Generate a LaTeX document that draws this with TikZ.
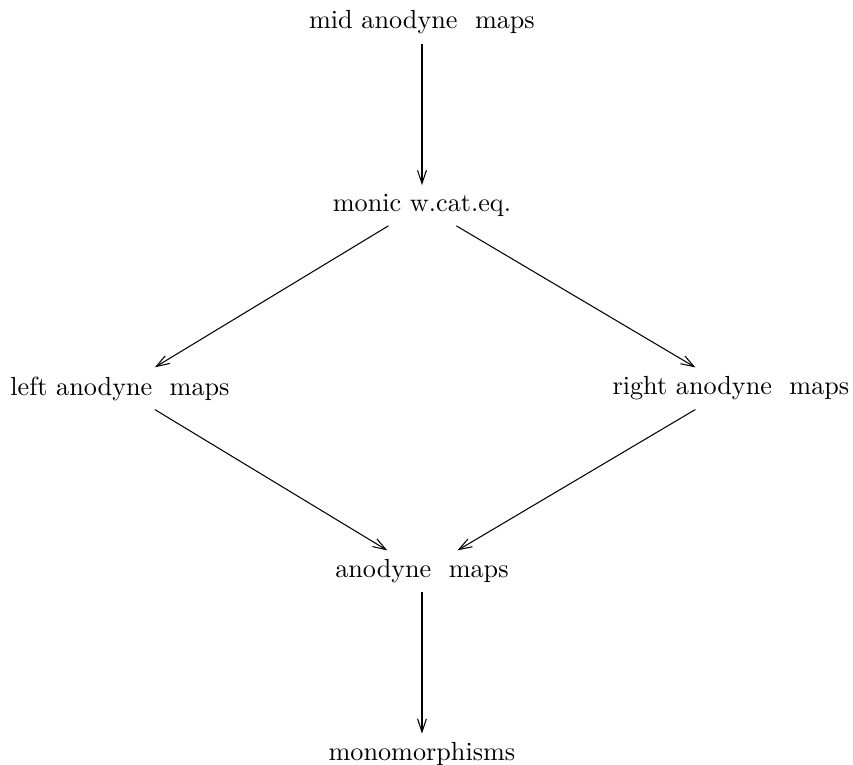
\documentclass[tikz,border=0pt]{standalone}
\usetikzlibrary{arrows.meta}
\tikzstyle{cls} = [rectangle, text centered]
\tikzstyle{arrow} = [-{Straight Barb[length = 5pt, width = 3.4pt]}]

\begin{document}
\begin{tikzpicture}[node distance = 2.455cm]

\useasboundingbox (-5.662, 0.302) rectangle (5.783, -9.961);

\node (mid) [cls] {mid anodyne\ \ maps};

\node (monic) [cls, below of = mid] {monic w.cat.eq.};

\node (left) [cls] at (-4.052, -4.91) {left anodyne\ \ maps};
\node (right) [cls] at (4.145, -4.91) {right anodyne\ \ maps};

\node (anod) [cls, below of = monic, yshift = -2.455cm] {anodyne\ \ maps};

\node (mono) [cls, below of = anod] {monomorphisms};

\draw [arrow] (mid) -- (monic);
\draw [arrow] (monic) -- (left);
\draw [arrow] (monic) -- (right);
\draw [arrow] (left) -- (anod);
\draw [arrow] (right) -- (anod);
\draw [arrow] (anod) -- (mono);
\end{tikzpicture}
\end{document}
